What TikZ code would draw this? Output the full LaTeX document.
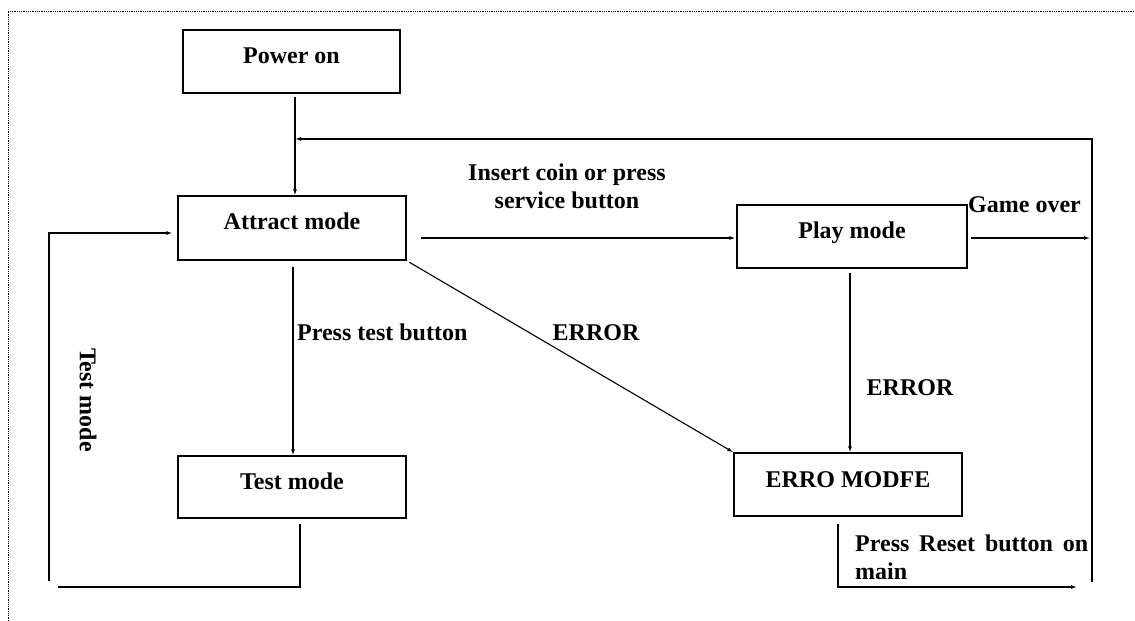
\documentclass[tikz,border=0pt]{standalone}
\usepackage{fontspec}
\setmainfont{Liberation Serif}
\usetikzlibrary{arrows.meta,calc}
\begin{document}
\begin{tikzpicture}[x=1pt,y=-1pt,
  statebox/.style={draw,line width=1.4pt,inner sep=0pt},
  ln/.style={line width=1.1pt},
  arr/.style={line width=1.1pt,-{Latex[length=6pt,width=4pt]}},
  lbl/.style={inner sep=0pt,font=\fontsize{24}{28}\selectfont\bfseries}]
\useasboundingbox (0,0) rectangle (1135,621);
% dotted frame
\coordinate (fa) at (8,621);
\coordinate (fb) at (8,11);
\coordinate (fc) at (1135,11);
\draw[densely dotted,line width=0.8pt] (fa) -- (fb) -- (fc);
% boxes
\node[statebox,minimum width=217pt,minimum height=63pt] (pw) at (291.5,61.5) {};
\node[statebox,minimum width=228pt,minimum height=64pt] (at) at (292,228) {};
\node[statebox,minimum width=230pt,minimum height=63pt] (pm) at (852,236.5) {};
\node[statebox,minimum width=228pt,minimum height=62pt] (tm) at (292,487) {};
\node[statebox,minimum width=228pt,minimum height=63pt] (er) at (848,484.5) {};
% box texts
\node[lbl] (pwt) at ([yshift=6pt]pw.center) {Power on};
\node[lbl] (att) at ([yshift=7pt]at.center) {Attract mode};
\node[lbl] (pmt) at ([yshift=4pt]pm.center) {Play mode};
\node[lbl] (tmt) at ([yshift=6pt]tm.center) {Test mode};
\node[lbl] (ert) at ([yshift=5pt]er.center) {ERRO MODFE};
% power on -> attract
\coordinate (vx) at ($(pw.south)+(3.5,3)$);
\draw[arr] (vx) -- (vx |- at.north);
% feedback from right
\coordinate (rb) at (1092,582);
\coordinate (rt) at (1092,139);
\draw[arr] (rb) -- (rt) -- (rt -| vx);
% attract -> play
\coordinate (ap) at ($(at.east |- pm.west)+(14,1.5)$);
\draw[arr] (ap) -- ($(ap -| pm.west)+(-1,0)$);
% game over
\coordinate (gs) at ($(pm.east)+(3,1.5)$);
\draw[arr] (gs) -- ($(gs -| rt)+(-2,0)$);
% diagonal error
\draw[arr,shorten <=3pt] (at.south east) -- (er.north west);
% play -> error
\coordinate (pe) at ($(pm.south)+(-2,4)$);
\draw[arr] (pe) -- (pe |- er.north);
% attract -> test
\coordinate (atb) at ($(at.south)+(1,6)$);
\draw[arr] (atb) -- (atb |- tm.north);
% test mode return
\coordinate (tb) at ($(tm.south)+(8,5)$);
\coordinate (lb) at (58,587);
\draw[ln] (tb) |- (lb);
\coordinate (lv) at (49,581);
\coordinate (lt) at (49,233);
\draw[arr] (lv) -- (lt) -- ($(at.west |- lt)+(-5,0)$);
% error return
\coordinate (eb) at ($(er.south)+(-10,7)$);
\coordinate (ee) at (1077,587);
\draw[arr] (eb) |- (ee);
% labels
\node[lbl,align=center] (ins) at (567,186) {Insert coin or press\\service button};
\node[lbl,anchor=west] (gov) at (968,205) {Game over};
\node[lbl,anchor=west] (ptb) at (297,332) {Press test button};
\node[lbl] (e1) at (596,333) {ERROR};
\node[lbl] (e2) at (910,388) {ERROR};
\node[lbl,rotate=-90] (tmv) at (88,400) {Test mode};
\node[lbl,anchor=north west,text width=233pt,align=left] (prb) at (855,535) {Press\hfill Reset\hfill button\hfill on\\main};
\end{tikzpicture}
\end{document}
